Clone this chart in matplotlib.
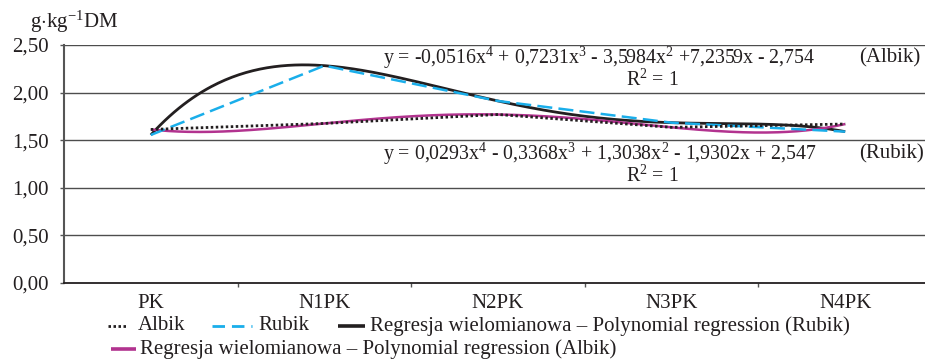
import numpy as np
import matplotlib
matplotlib.use("Agg")
import matplotlib.pyplot as plt
from matplotlib.lines import Line2D
from matplotlib.ticker import FixedLocator, FuncFormatter

categories = ["PK", "N1PK", "N2PK", "N3PK", "N4PK"]
albik = [1.613, 1.676, 1.770, 1.635, 1.670]
rubik = [1.555, 2.283, 1.912, 1.684, 1.590]
yticks = [0.0, 0.5, 1.0, 1.5, 2.0, 2.5]
eq_albik_label = r"y = -0,0516x$^{4}$ + 0,7231x$^{3}$ - 3,5984x$^{2}$ +7,2359x - 2,754"
eq_rubik_label = r"y = 0,0293x$^{4}$ - 0,3368x$^{3}$ + 1,3038x$^{2}$ - 1,9302x + 2,547"
legend_labels = ["Albik", "Rubik",
                 "Regresja wielomianowa – Polynomial regression (Rubik)",
                 "Regresja wielomianowa – Polynomial regression (Albik)"]

plt.rcParams['font.family'] = ['Liberation Serif', 'DejaVu Serif']
plt.rcParams['mathtext.fontset'] = 'custom'
plt.rcParams['mathtext.rm'] = 'Liberation Serif'
plt.rcParams['mathtext.it'] = 'Liberation Serif'
plt.rcParams['mathtext.bf'] = 'Liberation Serif'

FS = 15
W, H = 925, 360
fig = plt.figure(figsize=(W / 100, H / 100), dpi=100)
left, right, top, bottom = 64, 932, 45, 283
ax = fig.add_axes([left / W, 1 - bottom / H, (right - left) / W, (bottom - top) / H])

x = np.arange(len(categories))
ax.set_xlim(-0.5, len(categories) - 0.5)
ax.set_ylim(0, 2.5)

for yv in yticks[1:]:
    ax.axhline(yv, color='#4d4d4d', lw=1.0, zorder=1)

black = '#231f20'
blue = '#1aaeea'
magenta = '#b2338f'
dotted = (0, (0.9, 0.9))
dashed = (0, (6, 2.5))

xs = np.linspace(0, len(categories) - 1, 300)
pr = np.polyfit(x, rubik, 4)
pa = np.polyfit(x, albik, 4)
ax.plot(xs, np.polyval(pr, xs), color=black, lw=2.0, zorder=3, solid_capstyle='butt')
ax.plot(xs, np.polyval(pa, xs), color=magenta, lw=1.8, zorder=4, solid_capstyle='butt')
ax.plot(x, albik, color=black, lw=2.0, ls=dotted, zorder=5)
ax.plot(x, rubik, color=blue, lw=1.8, ls=dashed, zorder=4)

for s in ['top', 'right']:
    ax.spines[s].set_visible(False)
ax.spines['left'].set_color('#555555')
ax.spines['left'].set_linewidth(1.5)
ax.spines['bottom'].set_color(black)
ax.spines['bottom'].set_linewidth(1.3)

ax.set_yticks(yticks)
ax.yaxis.set_major_formatter(FuncFormatter(lambda v, p: f"{v:.2f}".replace('.', ',')))
ax.tick_params(axis='y', length=3, width=1, color='#555555', pad=8, labelsize=FS, labelcolor=black)
ax.set_xticks(x)
ax.set_xticklabels(categories)
ax.tick_params(axis='x', which='major', length=0, pad=8, labelsize=FS, labelcolor=black)
ax.xaxis.set_minor_locator(FixedLocator(np.arange(0.5, len(categories) - 0.5, 1)))
ax.tick_params(axis='x', which='minor', length=3, width=1, color='#555555')

def ft(px, py, s, fs=FS, **kw):
    fig.text(px / W, 1 - py / H, s, fontsize=fs, color=black, **kw)

EFS = 14.3
ft(30, 22, r"g$\cdot$kg$^{-1}$DM", va='center', ha='left')
ft(383, 58, eq_albik_label, fs=EFS, va='center', ha='left')
ft(920, 58, "(Albik)", va='center', ha='right')
ft(652, 80, r"R$^{2}$ = 1", fs=EFS, va='center', ha='center')
ft(383, 154, eq_rubik_label, fs=EFS, va='center', ha='left')
ft(924, 154, "(Rubik)", va='center', ha='right')
ft(652, 176, r"R$^{2}$ = 1", fs=EFS, va='center', ha='center')

# manual legend
def handle(x0, x1, py, **kw):
    fig.add_artist(Line2D([x0 / W, x1 / W], [1 - py / H, 1 - py / H], transform=fig.transFigure, **kw))

r1, r2 = 326, 349
handle(108, 128, r1, color=black, lw=2.0, ls=dotted)
ft(138, r1, legend_labels[0], va='center', ha='left')
handle(212, 252, r1, color=blue, lw=2.0, ls=(0, (4.5, 2.5)))
ft(258, r1, legend_labels[1], va='center', ha='left')
handle(338, 365, r1, color=black, lw=2.6, solid_capstyle='butt')
ft(370, r1, legend_labels[2], va='center', ha='left')
handle(111, 136, r2, color=magenta, lw=2.6, solid_capstyle='butt')
ft(140, r2, legend_labels[3], va='center', ha='left')

fig.savefig("out.png", dpi=100)
